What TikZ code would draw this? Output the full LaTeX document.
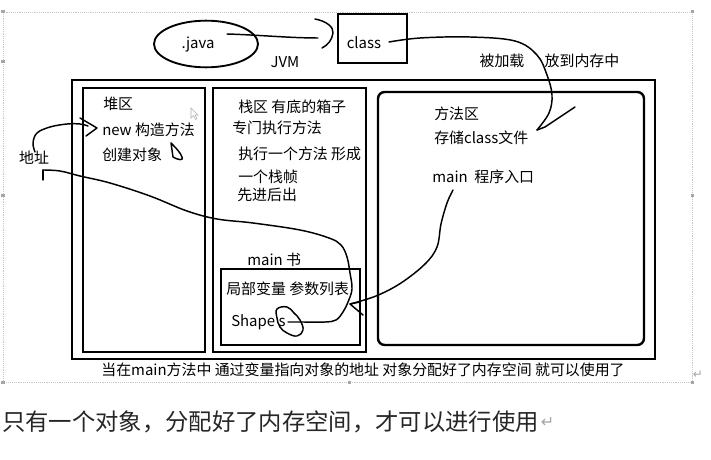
\documentclass[tikz,border=0pt]{standalone}
\usepackage{fontspec}
\newfontfamily\cjk{Noto Sans CJK SC}
\newfontfamily\dvsans{DejaVu Sans}
\usetikzlibrary{positioning,arrows.meta,fit}

\tikzset{
  txt/.style={font=\cjk\fontsize{11.2}{13}\selectfont, inner sep=0pt},
  ltxt/.style={txt, anchor=west},
  region/.style={draw, line width=1.8pt, inner sep=0pt},
  pen/.style={line width=1.1pt, line cap=round, line join=round},
  handle/.style={fill=gray!70, draw=none},
  retmark/.style={font=\dvsans\fontsize{9}{10}\selectfont, text=gray!70, inner sep=0pt},
}

\begin{document}
\begin{tikzpicture}[x=0.75pt, y=-0.75pt]
\useasboundingbox (0,0) rectangle (711,460);
\fill[white] (0,0) rectangle (711,460);

% text box frame
\draw[gray!45, densely dotted] (3,12) rectangle (692,382);
\foreach \hx/\hy in {3/12,692/12,3/62,3/195,692/195,3/382,349/382,692/382}
  \fill[gray!70] (\hx-1.5,\hy-1.5) rectangle (\hx+1.5,\hy+1.5);

% source and class file
\draw[line width=1.4pt] (206,44) ellipse [x radius=39pt, y radius=17.5pt];
\node[txt] (java) at (198,45) {.java};
\node[txt] (jvmlbl) at (285,62) {JVM};
\node[region, fit={(338,14) (407,63)}] (classbox) {};
\node[txt] (cls) at (364,43) {class};
\coordinate (javaout) at (227,34);
\coordinate (classin) at (318,38);
\draw[pen] (javaout) .. controls (260,35) and (290,38) .. (classin);
\draw[pen] (315,19) .. controls (326,21) and (334,27) .. (333,33)
  .. controls (332,40) and (328,45) .. (322,48);

\node[txt] (loaded) at (502,61) {被加载};
\node[txt] (tomem) at (582,61) {放到内存中};

% memory areas
\node[region, fit={(72,80) (655,359)}] (jvm) {};
\node[region, fit={(83,88) (205,352)}] (heap) {};
\node[region, fit={(213,88) (366,352)}] (stack) {};
\node[region, rounded corners=5pt, fit={(378,92) (644,345)}] (method) {};
\node[region, line width=1.5pt, fit={(221,269) (360,345)}] (frame) {};

% heap
\node[ltxt] (heaplbl) at (103,104) {堆区};
\node[ltxt] (newlbl) at (102,130) {new 构造方法};
\node[ltxt] (objlbl) at (102,155) {创建对象};
\node[txt] (addr) at (34,158) {地址};
\draw[pen] (171,143) -- (173,157) .. controls (178,160) and (184,161) .. (182,157)
  .. controls (180,152) and (176,148) .. (171,143);
\draw[gray!60, fill=white, line width=0.4pt] (191,108) -- (191,118) -- (193.5,115.5)
  -- (195.5,119.5) -- (197,118.7) -- (195,115) -- (198,115) -- cycle;

% stack
\node[ltxt] (stacklbl) at (238,107) {栈区 有底的箱子};
\node[ltxt] (execlbl) at (232,128) {专门执行方法};
\node[ltxt] (formlbl) at (238,154) {执行一个方法 形成};
\node[ltxt] (framelbl) at (238,177) {一个栈帧};
\node[ltxt] (lifolbl) at (237,195) {先进后出};
\node[ltxt] (mainbook) at (247,260) {main 书};
\node[ltxt] (vars) at (226,289) {局部变量 参数列表};
\node[ltxt] (shapes) at (231,322) {Shape s};

% method area
\node[ltxt] (methlbl) at (434,114) {方法区};
\node[ltxt] (storelbl) at (434,138) {存储class文件};
\node[ltxt] (entry) at (432,177) {main\ \ 程序入口};

% captions
\node[txt] (caption) at (363,370) {当在main方法中 通过变量指向对象的地址 对象分配好了内存空间 就可以使用了};
\node[retmark] (ret1) at (698,375) {↵};
\node[txt, anchor=west, font=\cjk\fontsize{17.5}{19}\selectfont, text=black!85] (note) at (2,422)
  {只有一个对象，分配好了内存空间，才可以进行使用};
\node[retmark, font=\dvsans\fontsize{12}{13}\selectfont, right=1pt of note] (ret2) {↵};

% hand drawn links
\coordinate (classout) at (389,42);
\coordinate (loadend) at (537,130);
\draw[pen] plot[smooth, tension=0.6] coordinates {(classout) (420,38) (470,37) (515,41)
  (537,55) (547,75) (552,95) (549,113) (loadend)};
\draw[pen] (loadend) -- (545,127) -- (575,107);

\coordinate (addrup) at (35,152);
\coordinate (newtip) at (97,128);
\draw[pen] plot[smooth, tension=0.6] coordinates {(addrup) (33,143) (37,133) (50,127)
  (67,124) (80,124) (88,126)};
\draw[pen] (80,118) -- (newtip) -- (86,136);

\coordinate (sout) at (288,322);
\coordinate (addrdown) at (43,170);
\draw[pen] plot[smooth cycle, tension=0.7] coordinates {(277,309) (287,307) (294,313)
  (300,320) (303,330) (297,336) (287,333) (280,327) (277,318)};
\draw[pen] plot[smooth, tension=0.6] coordinates {(sout) (302,322) (325,322) (336,320)
  (343,312) (348,302) (352,289) (350,273) (347,257) (341,245) (329,238) (300,230)
  (253,223) (217,219) (187,211) (150,196) (110,183) (80,176) (60,171) (addrdown)};
\draw[pen] (addrdown) -- (43,180);

\coordinate (entryout) at (453,190);
\coordinate (frametip) at (350,304);
\draw[pen] plot[smooth, tension=0.6] coordinates {(entryout) (447,203) (441,224)
  (437,247) (425,264) (401,283) (376,296) (frametip)};
\draw[pen] (360,302) -- (frametip) -- (363,315);
\end{tikzpicture}
\end{document}
